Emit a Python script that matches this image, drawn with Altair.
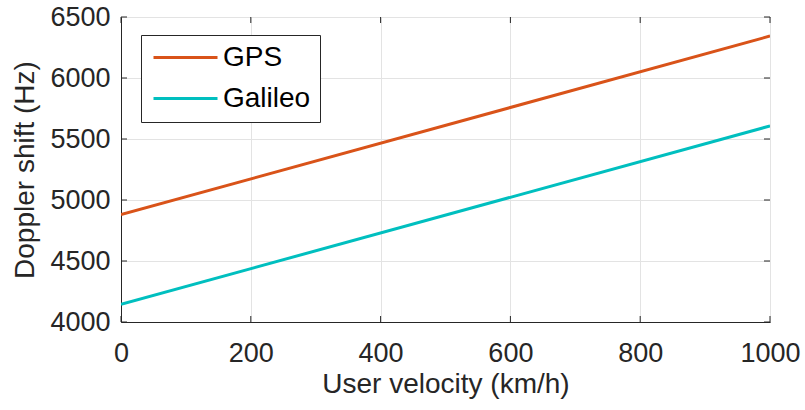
import altair as alt
import pandas as pd

# ---- data ----
velocity = [0, 1000]
gps = [4880, 6344]
galileo = [4145, 5607]
series = ["GPS", "Galileo"]
colors = ["#D95319", "#00BFBF"]
x_ticks = [0, 200, 400, 600, 800, 1000]
y_ticks = [4000, 4500, 5000, 5500, 6000, 6500]

df = pd.DataFrame({
    "velocity": velocity + velocity,
    "doppler": gps + galileo,
    "series": [series[0]] * len(velocity) + [series[1]] * len(velocity),
})
xt = pd.DataFrame({"v": x_ticks})
yt = pd.DataFrame({"v": y_ticks})

W, H = 649, 305
FONT = "Liberation Sans"
INK = "#262626"
FS = 27      # tick labels
FT = 28      # axis titles and legend
TL = 6       # inward tick length

xs = alt.Scale(domain=[0, 1000], nice=False, zero=False)
ys = alt.Scale(domain=[4000, 6500], nice=False, zero=False)

common_axis = dict(
    grid=True, gridColor="#E3E3E3", gridWidth=1,
    domain=True, domainColor=INK, domainWidth=1,
    ticks=False, tickSize=0, format="d",
    labelFlush=False, labelOverlap=False, labelBound=False,
    labelFont=FONT, labelFontSize=FS, labelColor=INK,
    titleFont=FONT, titleFontSize=FT, titleColor=INK, titleFontWeight="normal",
)
x_axis = alt.Axis(values=x_ticks, title="User velocity (km/h)",
                  labelPadding=18, titlePadding=4, **common_axis)
y_axis = alt.Axis(values=y_ticks, title="Doppler shift (Hz)",
                  labelPadding=11, titlePadding=10, **common_axis)

lines = alt.Chart(df).mark_line(strokeWidth=3, clip=True).encode(
    x=alt.X("velocity:Q", scale=xs, axis=x_axis),
    y=alt.Y("doppler:Q", scale=ys, axis=y_axis),
    color=alt.Color("series:N", scale=alt.Scale(domain=series, range=colors),
                    legend=alt.Legend(
                        title=None, orient="none", legendX=20, legendY=18,
                        fillColor="white", strokeColor=INK, padding=9,
                        symbolType="stroke", symbolSize=4096, symbolStrokeWidth=3,
                        symbolOffset=2, clipHeight=27, labelOffset=4,
                        labelFont=FONT, labelFontSize=FT, labelColor="black",
                        rowPadding=12)),
)

tick_style = dict(color=INK, strokeWidth=1)
bottom = alt.Chart(xt).mark_rule(**tick_style).encode(
    x=alt.X("v:Q", scale=xs, axis=x_axis), y=alt.value(H), y2=alt.value(H - TL))
top = alt.Chart(xt).mark_rule(**tick_style).encode(
    x=alt.X("v:Q", scale=xs, axis=x_axis), y=alt.value(0), y2=alt.value(TL))
left = alt.Chart(yt).mark_rule(**tick_style).encode(
    y=alt.Y("v:Q", scale=ys, axis=y_axis), x=alt.value(0), x2=alt.value(TL))
right = alt.Chart(yt).mark_rule(**tick_style).encode(
    y=alt.Y("v:Q", scale=ys, axis=y_axis), x=alt.value(W), x2=alt.value(W - TL))

chart = alt.layer(lines, bottom, top, left, right).properties(
    width=W, height=H,
    background="white",
    autosize=alt.AutoSizeParams(type="none"),
    padding={"left": 121, "top": 17, "right": 35, "bottom": 88},
).configure_view(stroke=INK, strokeWidth=1)

chart.save("out.html", embed_options={"renderer": "svg", "actions": False})
